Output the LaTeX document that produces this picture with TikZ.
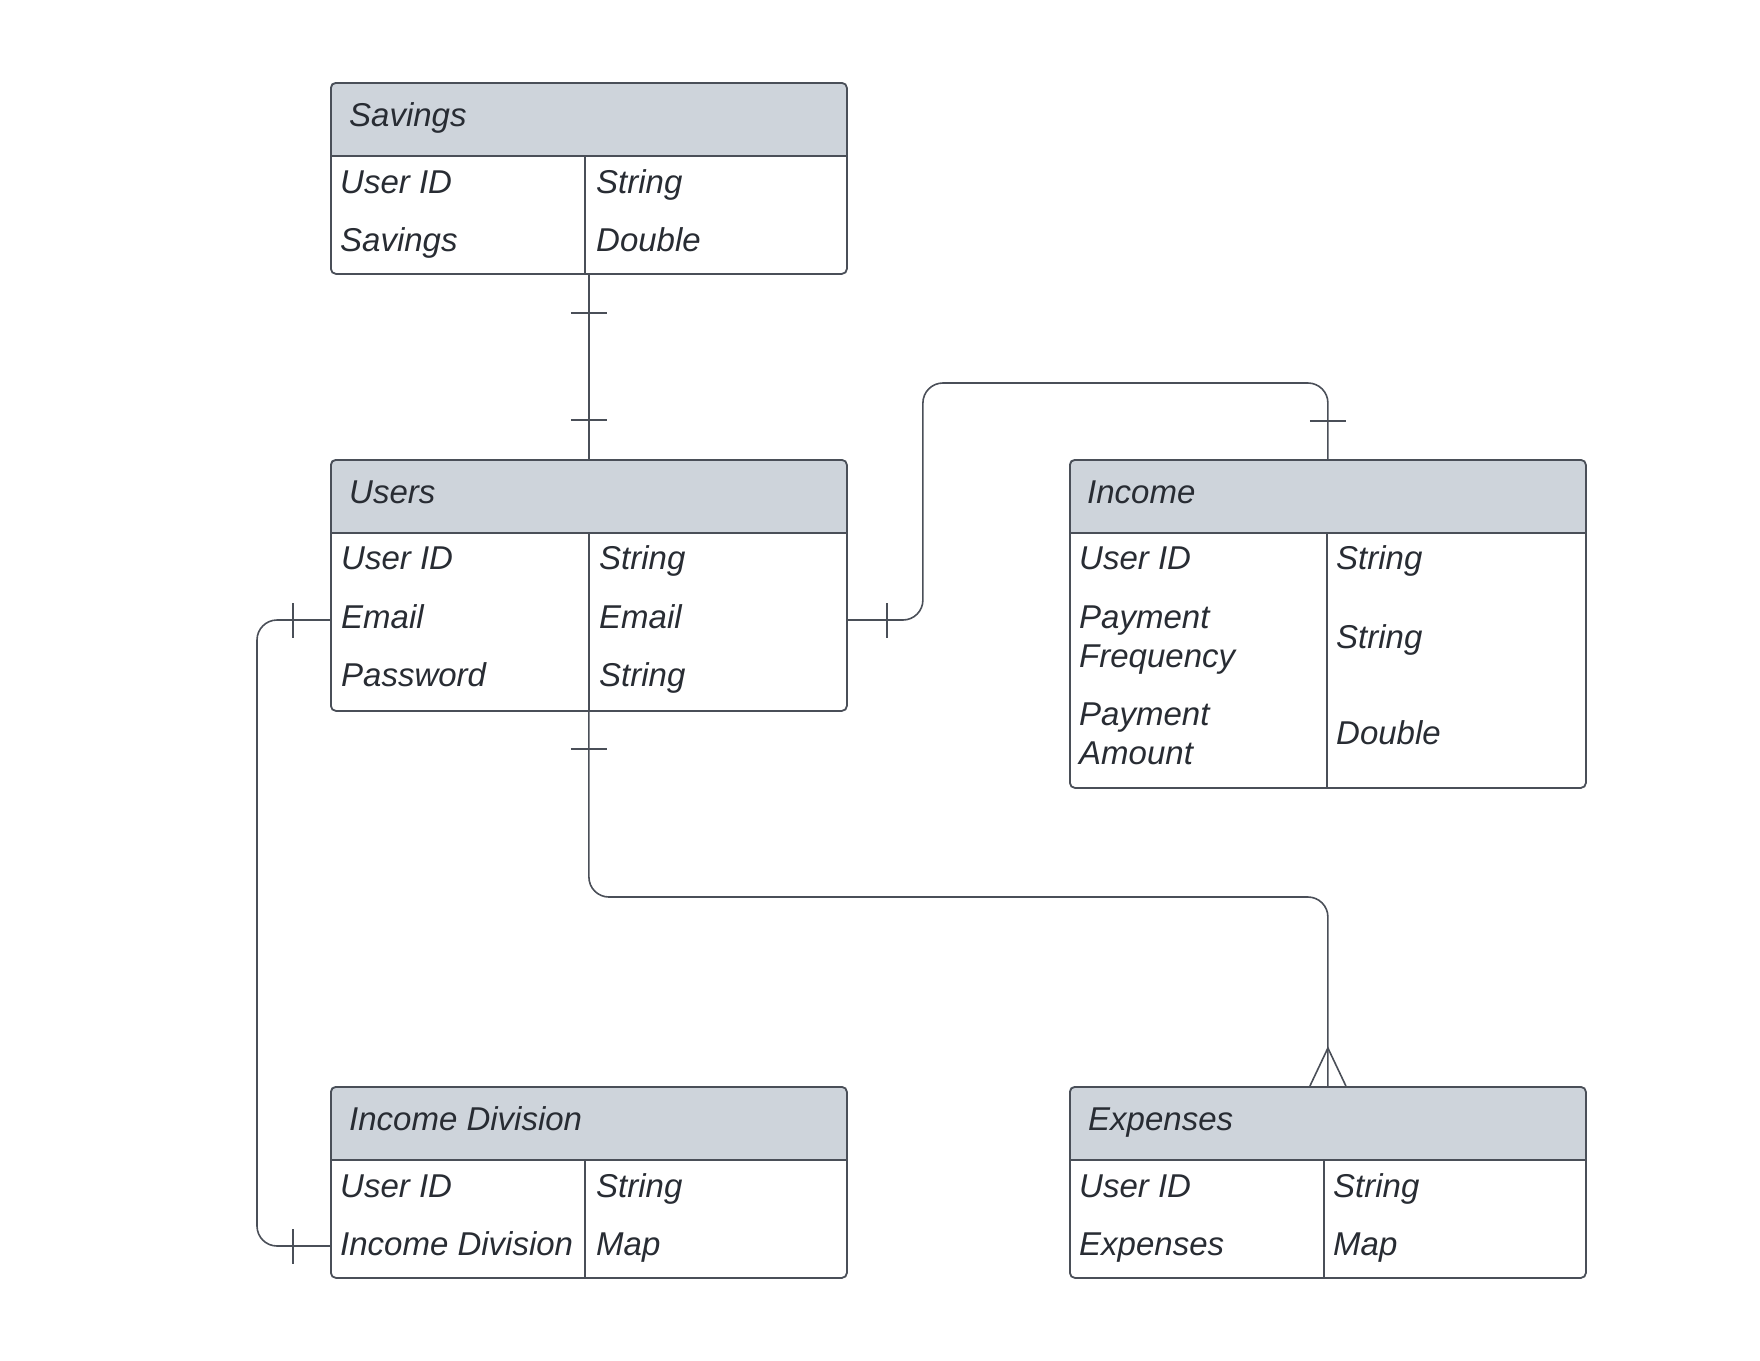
\documentclass[tikz,border=0pt]{standalone}
\usepackage{fontspec}
\setmainfont{Liberation Sans}
\usetikzlibrary{calc}
\definecolor{hdr}{HTML}{CED4DB}
\definecolor{edge}{HTML}{4A4F58}
\definecolor{txt}{HTML}{282C33}
\newcommand{\ertable}[5]{% name, x, y, height, divider x
  \begin{scope}
    \clip[rounded corners=5pt] (#2,#3) rectangle ++(516,#4);
    \fill[hdr] (#2,#3) rectangle ++(516,74);
  \end{scope}
  \node[tbl, minimum height=#4pt] (#1) at (#2,#3) {};
  \draw[edge, line width=1.8pt] (#2,#3+74) -- ++(516,0);
  \draw[edge, line width=1.6pt] (#5,#3+74) -- (#5,#3+#4);
}
\begin{document}
\begin{tikzpicture}[x=1pt,y=-1pt,
  tbl/.style={draw=edge, line width=1.8pt, rounded corners=5pt, minimum width=516pt, anchor=north west, inner sep=0pt},
  lbl/.style={anchor=west, inner sep=0pt, text=txt, font=\fontsize{33}{39}\selectfont\itshape, align=left, text height=23pt, text depth=0pt},
  conn/.style={draw=edge, line width=1.6pt, rounded corners=20pt},
  tick/.style={draw=edge, line width=1.6pt}]
\useasboundingbox[fill=white] (0,0) rectangle (1760,1360);

% tables
\ertable{sav}{330}{82}{191}{585}
\ertable{usr}{330}{459}{251}{589}
\ertable{inc}{1069}{459}{328}{1327}
\ertable{idv}{330}{1086}{191}{585}
\ertable{exp}{1069}{1086}{191}{1324}

% Savings
\node[lbl] (savH) at (349,115) {Savings};
\node[lbl] (savA1) at (340,182) {User ID};
\node[lbl] (savB1) at (596,182) {String};
\node[lbl] (savA2) at (340,240) {Savings};
\node[lbl] (savB2) at (596,240) {Double};

% Users
\node[lbl] (usrH) at (349,492) {Users};
\node[lbl] (usrA1) at (341,558) {User ID};
\node[lbl] (usrB1) at (599,558) {String};
\node[lbl] (usrA2) at (341,617) {Email};
\node[lbl] (usrB2) at (599,617) {Email};
\node[lbl] (usrA3) at (341,675) {Password};
\node[lbl] (usrB3) at (599,675) {String};

% Income
\node[lbl] (incH) at (1087,492) {Income};
\node[lbl] (incA1) at (1079,558) {User ID};
\node[lbl] (incB1) at (1336,558) {String};
\node[lbl] (incA2) at (1079,656) {Payment\\Frequency};
\node[lbl] (incB2) at (1336,637) {String};
\node[lbl] (incA3) at (1079,753) {Payment\\Amount};
\node[lbl] (incB3) at (1336,733) {Double};

% Income Division
\node[lbl] (idvH) at (349,1119) {Income Division};
\node[lbl] (idvA1) at (340,1186) {User ID};
\node[lbl] (idvB1) at (596,1186) {String};
\node[lbl] (idvA2) at (340,1244) {Income Division};
\node[lbl] (idvB2) at (596,1244) {Map};

% Expenses
\node[lbl] (expH) at (1088,1119) {Expenses};
\node[lbl] (expA1) at (1079,1186) {User ID};
\node[lbl] (expB1) at (1333,1186) {String};
\node[lbl] (expA2) at (1079,1244) {Expenses};
\node[lbl] (expB2) at (1333,1244) {Map};

% Savings -- Users
\draw[conn] (sav.south) -- (usr.north);
\draw[tick] ($(sav.south)+(-18,38)$) -- ++(36,0);
\draw[tick] ($(usr.north)+(-18,-39)$) -- ++(36,0);

% Users -- Income
\draw[conn] ($(usr.north east)+(0,161)$) -| ($(inc.north)+(-405,-76)$) -| (inc.north);
\draw[tick] ($(usr.north east)+(39,144)$) -- ++(0,35);
\draw[tick] ($(inc.north)+(-18,-38)$) -- ++(36,0);

% Users -- Expenses
\draw[conn] (usr.south) |- ($(exp.north)+(0,-189)$) -- (exp.north);
\draw[tick] ($(usr.south)+(-18,37)$) -- ++(36,0);
\draw[tick] ($(exp.north)+(-18,0)$) -- ($(exp.north)+(0,-38)$) -- ($(exp.north)+(18,0)$);

% Users -- Income Division
\draw[conn] ($(usr.north west)+(0,161)$) -- ++(-73,0) |- ($(idv.north west)+(0,160)$);
\draw[tick] ($(usr.north west)+(-37,144)$) -- ++(0,35);
\draw[tick] ($(idv.north west)+(-37,143)$) -- ++(0,35);
\end{tikzpicture}
\end{document}
